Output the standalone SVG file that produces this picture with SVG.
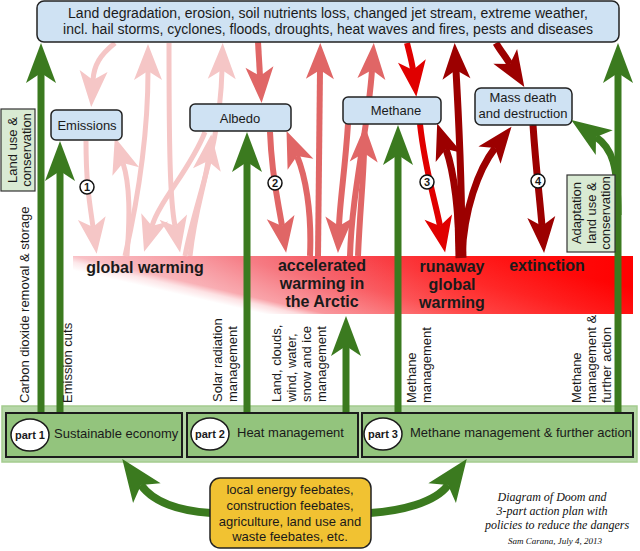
<svg xmlns="http://www.w3.org/2000/svg" width="640" height="551" viewBox="0 0 640 551">
<defs>
<linearGradient id="bandBase" gradientUnits="userSpaceOnUse" x1="73" y1="0" x2="633" y2="0">
<stop offset="0" stop-color="#f48f98"/>
<stop offset="0.23" stop-color="#f4707a"/>
<stop offset="0.46" stop-color="#f43f4a"/>
<stop offset="0.68" stop-color="#ff1a1a"/>
<stop offset="1" stop-color="#ff0000"/>
</linearGradient>
<linearGradient id="bandFade" gradientUnits="userSpaceOnUse" x1="71.2" y1="269.8" x2="95.3" y2="164.5">
<stop offset="0" stop-color="#fff" stop-opacity="1"/>
<stop offset="0.074" stop-color="#fff" stop-opacity="0.8"/>
<stop offset="0.13" stop-color="#fff" stop-opacity="0.45"/>
<stop offset="0.26" stop-color="#fff" stop-opacity="0.35"/>
<stop offset="0.44" stop-color="#fff" stop-opacity="0.2"/>
<stop offset="0.72" stop-color="#fff" stop-opacity="0.08"/>
<stop offset="1" stop-color="#fff" stop-opacity="0"/>
</linearGradient>
<marker id="mg" markerUnits="userSpaceOnUse" orient="auto" viewBox="-12 -17 44 34" markerWidth="44" markerHeight="34" refX="0" refY="0"><path d="M30,0 L-10,-15 L0,0 L-10,15 Z" fill="#3b7a1f"/></marker>
<marker id="mgb" markerUnits="userSpaceOnUse" orient="auto" viewBox="-13 -20 50 40" markerWidth="50" markerHeight="40" refX="0" refY="0"><path d="M32,0 L-10,-17 L0,0 L-10,17 Z" fill="#3b7a1f"/></marker>
<marker id="mp" markerUnits="userSpaceOnUse" orient="auto" viewBox="-11 -16 40 32" markerWidth="40" markerHeight="32" refX="0" refY="0"><path d="M27,0 L-9,-14 L0,0 L-9,14 Z" fill="#f5c6c6"/></marker>
<marker id="ms" markerUnits="userSpaceOnUse" orient="auto" viewBox="-11 -16 40 32" markerWidth="40" markerHeight="32" refX="0" refY="0"><path d="M27,0 L-9,-14 L0,0 L-9,14 Z" fill="#e06666"/></marker>
<marker id="mr" markerUnits="userSpaceOnUse" orient="auto" viewBox="-11 -16 40 32" markerWidth="40" markerHeight="32" refX="0" refY="0"><path d="M27,0 L-9,-14 L0,0 L-9,14 Z" fill="#e00000"/></marker>
<marker id="md" markerUnits="userSpaceOnUse" orient="auto" viewBox="-11 -16 40 32" markerWidth="40" markerHeight="32" refX="0" refY="0"><path d="M27,0 L-9,-14 L0,0 L-9,14 Z" fill="#9c0000"/></marker>
</defs>
<style>
.t{font-family:"Liberation Sans",Arial,sans-serif;fill:#1a1a1a;font-size:13px}
.c{text-anchor:middle}
.b{font-weight:bold}
.box{fill:#cfe2f3;stroke:#222;stroke-width:1.5}
.gbox{fill:#d9ead3;stroke:#333;stroke-width:1.2}
.part{fill:#93c47d;stroke:#1c1c1c;stroke-width:2}
.ell{fill:#fff;stroke:#1c1c1c;stroke-width:1.5}
.num{fill:#fff;stroke:#111;stroke-width:1.5}
.p{fill:none;stroke:#f5c6c6;stroke-width:5;marker-end:url(#mp)}
.s{fill:none;stroke:#e06666;stroke-width:6;marker-end:url(#ms)}
.r{fill:none;stroke:#e00000;stroke-width:6;marker-end:url(#mr)}
.d{fill:none;stroke:#9c0000;stroke-width:7;marker-end:url(#md)}
.g{fill:none;stroke:#3b7a1f;stroke-width:7;marker-end:url(#mg)}
.gb{fill:none;stroke:#3b7a1f;stroke-width:8;marker-end:url(#mgb)}
.sig{font-family:"Liberation Serif","Times New Roman",serif;font-style:italic;fill:#111;text-anchor:middle}
</style>

<g id="band">
<rect x="73" y="256" width="560" height="58" fill="url(#bandBase)"/>
<rect x="73" y="256" width="560" height="58" fill="url(#bandFade)"/>
</g>

<g id="feedback-connectors">
<path class="p" d="M115,43 C100,55 94,65 93,80"/>
<path class="p" d="M86,141 C86,185 90,205 93,227"/>
<path class="p" d="M127,256 C130,215 130,185 123,163"/>
<path class="p" d="M125,256 C140,190 148,130 148,71"/>
<path class="p" d="M169,43 C169,150 170,200 175,226"/>
<path class="p" d="M205,132 C190,170 160,200 152,226"/>
<path class="p" d="M190,256 C195,210 205,185 208,161"/>
<path class="p" d="M185,256 C195,200 220,150 222,70"/>

<path class="s" d="M258,42 L260,76"/>
<path class="s" d="M270,132 C272,180 278,200 282,226"/>
<path class="s" d="M310,256 C312,210 305,175 297,156"/>
<path class="s" d="M318,256 L320,70"/>
<path class="s" d="M348,124 C345,170 340,200 339,226"/>
<path class="s" d="M350,256 C352,190 368,130 372,70"/>
<path class="s" d="M358,256 C360,210 363,185 364,153"/>

<path class="r" d="M407,43 C410,55 412,62 413,70"/>
<path class="r" d="M420,124 C425,170 435,200 440,226"/>

<path fill="none" stroke="#9c0000" stroke-width="11" d="M461,258 L460,215"/>
<path class="d" d="M460,256 C458,210 455,175 446,149"/>
<path class="d" d="M462,256 C462,170 458,110 456,70"/>
<path class="d" d="M462,256 C464,210 478,170 495,148"/>
<path class="d" d="M496,43 C500,50 505,56 510,64"/>
<path class="d" d="M533,125 C536,170 540,200 542,226"/>
</g>

<g id="node-emissions"><rect class="box" x="51" y="110" width="71" height="30" rx="5"/><text class="t c" x="87" y="130">Emissions</text></g>
<g id="node-albedo"><rect class="box" x="190" y="104" width="101" height="27" rx="5"/><text class="t c" x="240" y="123">Albedo</text></g>
<g id="node-methane"><rect class="box" x="343" y="97" width="98" height="27" rx="5"/><text class="t c" x="396" y="115">Methane</text></g>
<g id="node-massdeath"><rect class="box" x="475" y="88" width="97" height="37" rx="6"/><text class="t c" x="523" y="102">Mass death</text><text class="t c" x="523" y="118">and destruction</text></g>

<g id="node-top"><rect class="box" x="37" y="1" width="582" height="41" rx="7"/>
<text class="t c" style="font-size:14px" x="328" y="18">Land degradation, erosion, soil nutrients loss, changed jet stream, extreme weather,</text>
<text class="t c" style="font-size:14px" x="328" y="34">incl. hail storms, cyclones, floods, droughts, heat waves and fires, pests and diseases</text></g>

<g id="bottom-strip"><rect x="2" y="406" width="635" height="56" fill="#b6d7a8" stroke="#a4cc8f" stroke-width="1.5"/></g>

<g id="green-connectors">
<path class="g" d="M41,412 L41,73"/>
<path class="g" d="M60,412 L60,171"/>
<path class="g" d="M247,412 L247,162"/>
<path class="g" d="M346,412 L346,346"/>
<path class="g" d="M398,412 L398,155"/>
<path class="g" d="M618,412 L618,73"/>
<path class="g" d="M618,215 C618,165 612,148 596,137"/>
<path class="gb" d="M211,513 C182,511 154,503 141,485"/>
<path class="gb" d="M370,513 C400,511 435,503 448,485"/>
</g>

<g id="band-labels">
<text class="t b c" style="font-size:16px" x="145" y="273">global warming</text>
<text class="t b c" style="font-size:16px" x="322" y="271">accelerated</text>
<text class="t b c" style="font-size:16px" x="322" y="289">warming in</text>
<text class="t b c" style="font-size:16px" x="322" y="307">the Arctic</text>
<text class="t b c" style="font-size:16px" x="452" y="272">runaway</text>
<text class="t b c" style="font-size:16px" x="452" y="290">global</text>
<text class="t b c" style="font-size:16px" x="452" y="308">warming</text>
<text class="t b c" style="font-size:16px" x="547" y="271">extinction</text>
</g>

<g id="numbers">
<circle class="num" cx="87" cy="187" r="7"/><text class="t b c" style="font-size:11px" x="87" y="191">1</text>
<circle class="num" cx="275" cy="183" r="7"/><text class="t b c" style="font-size:11px" x="275" y="187">2</text>
<circle class="num" cx="427" cy="182" r="7"/><text class="t b c" style="font-size:11px" x="427" y="186">3</text>
<circle class="num" cx="538" cy="181" r="7"/><text class="t b c" style="font-size:11px" x="538" y="185">4</text>
</g>

<g id="label-landuse"><rect class="gbox" x="1" y="109" width="34" height="82"/>
<g transform="translate(0,150) rotate(-90)"><text class="t c" x="0" y="17">Land use &amp;</text><text class="t c" x="0" y="31">conservation</text></g></g>
<g id="label-adaptation"><rect class="gbox" x="567" y="175" width="48" height="77"/>
<g transform="translate(0,213) rotate(-90)"><text class="t c" x="0" y="581">Adaptation</text><text class="t c" x="0" y="596">land use &amp;</text><text class="t c" x="0" y="610">conservation</text></g></g>

<g id="policy-labels">
<g transform="translate(0,403) rotate(-90)"><text class="t" x="0" y="29">Carbon dioxide removal &amp; storage</text></g>
<g transform="translate(0,403) rotate(-90)"><text class="t" x="0" y="72">Emission cuts</text></g>
<g transform="translate(0,402) rotate(-90)"><text class="t" x="0" y="222">Solar radiation</text><text class="t" x="0" y="237">management</text></g>
<g transform="translate(0,402) rotate(-90)"><text class="t" x="0" y="281">Land, clouds,</text><text class="t" x="0" y="296">wind, water,</text><text class="t" x="0" y="311">snow and ice</text><text class="t" x="0" y="326">management</text></g>
<g transform="translate(0,403) rotate(-90)"><text class="t" x="0" y="416">Methane</text><text class="t" x="0" y="431">management</text></g>
<g transform="translate(0,403) rotate(-90)"><text class="t" x="0" y="581">Methane</text><text class="t" x="0" y="596">management &amp;</text><text class="t" x="0" y="611">further action</text></g>
</g>

<g id="node-part1"><rect class="part" x="6" y="413" width="176" height="44"/><ellipse class="ell" cx="30" cy="435" rx="19" ry="16"/><text class="t b c" style="font-size:11px" x="30" y="439">part 1</text><text class="t" x="54" y="438">Sustainable economy</text></g>
<g id="node-part2"><rect class="part" x="187" y="413" width="171" height="44"/><ellipse class="ell" cx="210" cy="434" rx="19" ry="16"/><text class="t b c" style="font-size:11px" x="210" y="438">part 2</text><text class="t" x="237" y="437">Heat management</text></g>
<g id="node-part3"><rect class="part" x="362" y="413" width="271" height="44"/><ellipse class="ell" cx="383" cy="434" rx="19" ry="16"/><text class="t b c" style="font-size:11px" x="383" y="438">part 3</text><text class="t" x="410" y="437">Methane management &amp; further action</text></g>

<g id="node-feebates"><rect x="210" y="478" width="161" height="70" rx="10" fill="#f1c232" stroke="#222" stroke-width="1.5"/>
<text class="t c" x="290" y="494">local energy feebates,</text>
<text class="t c" x="290" y="510">construction feebates,</text>
<text class="t c" x="290" y="526">agriculture, land use and</text>
<text class="t c" x="290" y="541">waste feebates, etc.</text></g>

<g id="caption">
<text class="sig" style="font-size:12px" x="552" y="501">Diagram of Doom and</text>
<text class="sig" style="font-size:12px" x="552" y="515">3-part action plan with</text>
<text class="sig" style="font-size:12px" x="557" y="529">policies to reduce the dangers</text>
<text class="sig" style="font-size:9px" x="555" y="544">Sam Carana, July 4, 2013</text>
</g>
</svg>
